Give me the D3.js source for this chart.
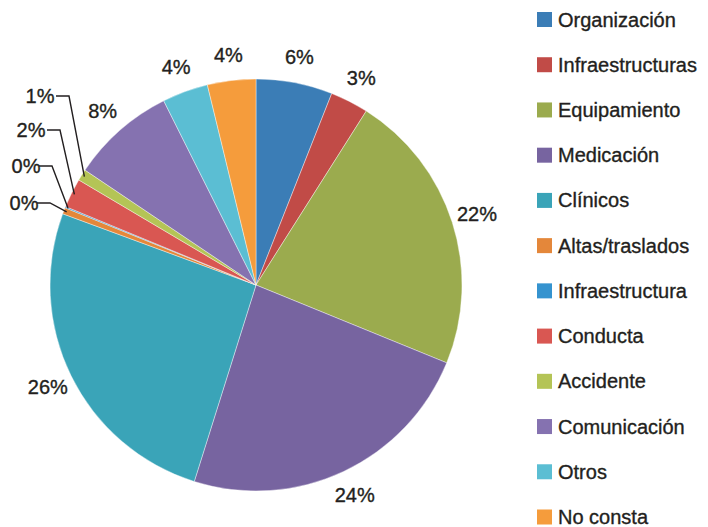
<!DOCTYPE html>
<html><head><meta charset="utf-8">
<script src="https://cdn.jsdelivr.net/npm/d3@7/dist/d3.min.js"></script>
<style>body{margin:0;background:#fff}svg{display:block}text{font-family:"Liberation Sans",Arial,Helvetica,sans-serif;fill:#231f20;stroke:#231f20;stroke-width:0.35px}</style>
</head><body><svg id="c" width="708" height="527"></svg>
<script>
const categories = ["Organización","Infraestructuras","Equipamiento","Medicación","Clínicos","Altas/traslados","Infraestructura","Conducta","Accidente","Comunicación","Otros","No consta"];
const values = [6.0, 3.0, 22.2, 23.7, 25.8, 0.5, 0.1, 2.3, 0.9, 8.2, 3.6, 3.8];
const labels = ["6%","3%","22%","24%","26%","0%","0%","2%","1%","8%","4%","4%"];
const colors = ["#3b7db6","#c14b47","#9bab4e","#7764a0","#3aa4b8","#e4873a","#3593cf","#d95752","#b4c456","#8572b0","#5bbed3","#f59c3c"];

const svg = d3.select("#c");
const cx = 256, cy = 285, r = 206;
const g = svg.append("g").attr("transform", `translate(${cx},${cy})`);
const pie = d3.pie().sort(null).value(d => d.v);
const data = pie(categories.map((c, i) => ({c, v: values[i], l: labels[i], col: colors[i]})));
const arc = d3.arc().innerRadius(0).outerRadius(r);
g.selectAll("path").data(data).join("path")
  .attr("d", arc).attr("fill", d => d.data.col)
  .attr("stroke", "#fff").attr("stroke-width", 0.4);

const fs = 20;
// leader-line label layout for the small slices (indices 5..8)
const leaderLayout = {5: {tx: 24, ty: 203, ex: 50}, 6: {tx: 26, ty: 166, ex: 52}, 7: {tx: 31, ty: 130, ex: 60}, 8: {tx: 40, ty: 96, ex: 69}};
const labelArc = d3.arc().innerRadius(232).outerRadius(232);
const edgeArc = d3.arc().innerRadius(r - 3).outerRadius(r - 3);
data.forEach((d, i) => {
  const L = leaderLayout[i];
  if (L) {
    const [px, py] = edgeArc.centroid(d);
    const sx = L.ex - cx, sy = L.ty - cy;
    g.append("polyline")
      .attr("points", `${sx - 13},${sy} ${sx},${sy} ${px},${py}`)
      .attr("fill", "none").attr("stroke", "#231f20").attr("stroke-width", 1.4);
    svg.append("text").attr("x", L.tx).attr("y", L.ty).attr("text-anchor", "middle")
      .attr("dominant-baseline", "central").attr("font-size", fs).text(d.data.l);
  } else {
    const [lx, ly] = labelArc.centroid(d);
    g.append("text").attr("x", lx).attr("y", ly).attr("text-anchor", "middle")
      .attr("dominant-baseline", "central").attr("font-size", fs).text(d.data.l);
  }
});

const ly = d3.scalePoint().domain(categories).range([19.5, 517]);
const leg = svg.append("g");
categories.forEach((c, i) => {
  leg.append("rect").attr("x", 537).attr("y", ly(c) - 7.5).attr("width", 15).attr("height", 15).attr("fill", colors[i]);
  leg.append("text").attr("x", 558).attr("y", ly(c)).attr("dominant-baseline", "central").attr("font-size", fs).text(c);
});
</script></body></html>
